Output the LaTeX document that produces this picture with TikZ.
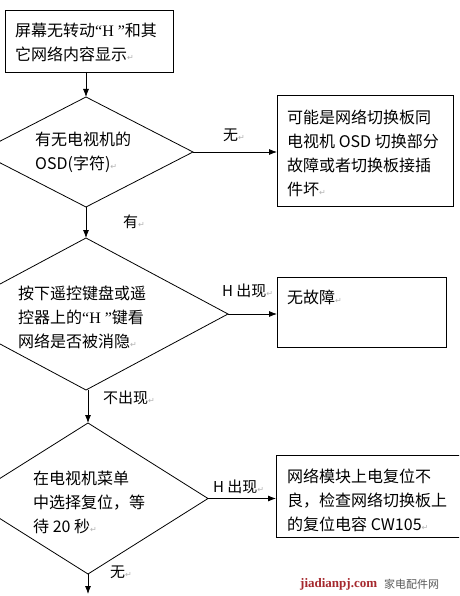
\documentclass[tikz,border=0pt]{standalone}
\usepackage{fontspec}
\setmainfont{Noto Sans CJK SC}
\newfontfamily\dejavu{DejaVu Sans}
\newfontfamily\serifl{Liberation Serif}
\usetikzlibrary{shapes.geometric,arrows.meta}
\newcommand\retmark{{\dejavu\fontsize{8}{8}\selectfont\textcolor{gray!60}{↵}}}
\newcommand\quoteH{{\serifl “H ”}}
\definecolor{wmred}{RGB}{165,40,45}
\begin{document}
\begin{tikzpicture}[x=1pt,y=-1pt,
  boxnode/.style={draw, line width=0.8pt, inner sep=0pt, outer sep=0pt},
  dia/.style={diamond, draw, line width=0.8pt, inner sep=0pt, outer sep=0pt},
  arr/.style={line width=0.8pt, -{Latex[length=8pt,width=6pt]}},
  txt/.style={anchor=west, align=left, inner sep=0pt, font=\fontsize{16}{24}\selectfont},
  lbl/.style={anchor=west, inner sep=0pt, font=\fontsize{15}{15}\selectfont}]
\useasboundingbox (0,0) rectangle (459,596);
\fill[white] (0,0) rectangle (459,596);
\clip (0,0) rectangle (459,596);

% boxes
\node[boxnode, minimum width=168pt, minimum height=62pt] (b1) at (89,41) {};
\node[boxnode, minimum width=176pt, minimum height=111pt] (b2) at (365,150.5) {};
\node[boxnode, minimum width=169pt, minimum height=70pt] (b3) at (361.5,312) {};
\node[boxnode, minimum width=200pt, minimum height=82pt] (b4) at (376,496) {};

% diamonds
\node[dia, minimum width=214pt, minimum height=110pt] (d1) at (86,152) {};
\node[dia, minimum width=284pt, minimum height=152pt] (d2) at (86,314) {};
\node[dia, minimum width=240pt, minimum height=151pt] (d3) at (88,498.5) {};

% texts
\node[txt] (t1) at (15,42) {屏幕无转动\quoteH 和其\\它网络内容显示\retmark};
\node[txt] (t2) at (287,153) {可能是网络切换板同\\电视机 OSD 切换部分\\故障或者切换板接插\\件坏\retmark};
\node[txt] (td1) at (35,152) {有无电视机的\\OSD(字符)\retmark};
\node[txt] (td2) at (18,317) {按下遥控键盘或遥\\控器上的\quoteH 键看\\网络是否被消隐\retmark};
\node[txt] (t3) at (287,297) {无故障\retmark};
\node[txt] (td3) at (33,502) {在电视机菜单\\中选择复位，等\\待 20 秒\retmark};
\node[txt] (t4) at (287,500) {网络模块上电复位不\\良，检查网络切换板上\\的复位电容 CW105\retmark};

% connectors
\coordinate (end) at (88,594);
\draw[arr] (d1.north |- b1.south) -- (d1.north);
\draw[arr] (d1.east) -- (d1.east -| b2.west);
\draw[arr] (d1.south) -- (d2.north);
\draw[arr] (d2.east) -- (d2.east -| b3.west);
\draw[arr] (d2.south -| d3.north) -- (d3.north);
\draw[arr] (d3.east) -- (d3.east -| b4.west);
\draw[arr] (d3.south) -- (end);

% labels
\node[lbl] (l1) at (223,135) {无\retmark};
\node[lbl] (l2) at (123,222) {有\retmark};
\node[lbl] (l3) at (222,291) {H 出现\retmark};
\node[lbl] (l4) at (103,398) {不出现\retmark};
\node[lbl] (l5) at (213,487) {H 出现\retmark};
\node[lbl] (l6) at (110,572) {无\retmark};

% watermark
\node[anchor=west, inner sep=0pt, font=\serifl\bfseries\fontsize{13}{13}\selectfont, text=wmred] (wm1) at (300,584) {jiadianpj.com};
\node[anchor=west, inner sep=0pt, font=\fontsize{11}{11}\selectfont, text=gray!70!black] (wm2) at (384,584) {家电配件网};
\end{tikzpicture}
\end{document}
